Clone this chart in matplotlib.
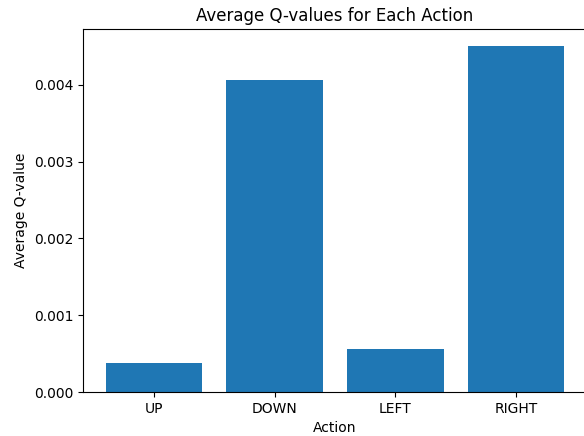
import matplotlib
matplotlib.use("Agg")
import matplotlib.pyplot as plt

# действия и средние Q-значения
actions = ["UP", "DOWN", "LEFT", "RIGHT"]
avg_q = [0.000378, 0.004065, 0.00056, 0.0045]

fig = plt.figure(figsize=(5.84, 4.36), dpi=100)
# оси чуть выходят за правый край, как на исходной картинке
ax = fig.add_axes([83 / 584, 1 - 392 / 436, 504 / 584, 363 / 436])

ax.bar(actions, avg_q, color="#1f77b4")
ax.set_title("Average Q-values for Each Action")
ax.set_xlabel("Action")
ax.set_ylabel("Average Q-value")

fig.savefig("out.png", dpi=100)
